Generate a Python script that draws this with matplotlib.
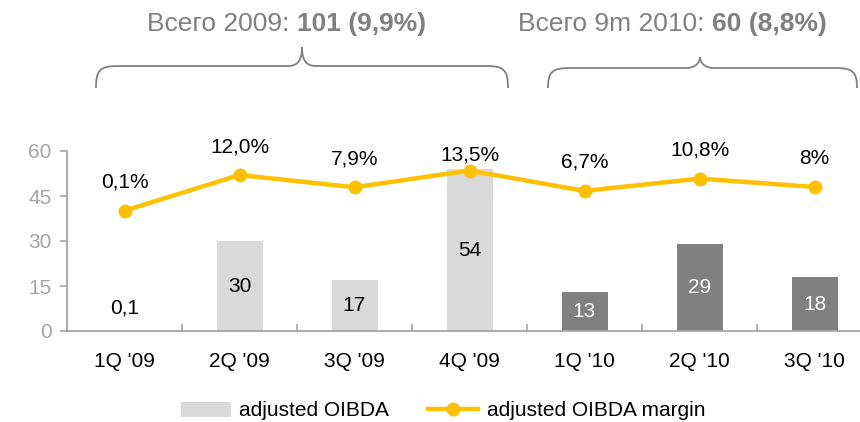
import matplotlib
matplotlib.use("Agg")
import matplotlib.pyplot as plt
from matplotlib.path import Path
from matplotlib.patches import PathPatch, Patch
from matplotlib.lines import Line2D

plt.rcParams['font.family'] = ['Liberation Sans', 'DejaVu Sans']

categories = ["1Q '09", "2Q '09", "3Q '09", "4Q '09", "1Q '10", "2Q '10", "3Q '10"]
oibda = [0.1, 30, 17, 54, 13, 29, 18]
oibda_labels = ["0,1", "30", "17", "54", "13", "29", "18"]
margin = [0.1, 12.0, 7.9, 13.5, 6.7, 10.8, 8.0]
margin_labels = ["0,1%", "12,0%", "7,9%", "13,5%", "6,7%", "10,8%", "8%"]
year_2010 = [False, False, False, False, True, True, True]
yticks = [0, 15, 30, 45, 60]

light = "#D9D9D9"
dark = "#808080"
yellow = "#FFC000"
axis_gray = "#A6A6A6"
FS = 15

W, H = 860, 422
fig = plt.figure(figsize=(W / 100, H / 100), dpi=100)

ax_left = 67 / W
ax_bottom = (H - 331) / H
ax_w = 805 / W
ax_h = 180 / H
ax = fig.add_axes([ax_left, ax_bottom, ax_w, ax_h])
ax2 = ax.twinx()

x = list(range(len(categories)))
colors = [dark if y else light for y in year_2010]
ax.bar(x, oibda, width=0.4, color=colors, zorder=2)
ax.set_xlim(-0.5, len(categories) - 0.5)
ax.set_ylim(0, 60)
ax.set_yticks(yticks)
ax.set_xticks(x)
ax.set_xticklabels(categories, fontsize=FS, color="black")
ax.tick_params(axis='x', length=0, pad=15)
ax.set_xticks([i + 0.5 for i in x[:-1]], minor=True)
ax.tick_params(axis='x', which='minor', direction='in', length=5, color=axis_gray, width=1.2)
ax.tick_params(axis='y', labelsize=FS, labelcolor=axis_gray, color=axis_gray, length=5, width=1.2, pad=6)
for s in ['top', 'right']:
    ax.spines[s].set_visible(False)
for s in ['left', 'bottom']:
    ax.spines[s].set_color(axis_gray)
    ax.spines[s].set_linewidth(1.3)

for i, (v, lab, is10) in enumerate(zip(oibda, oibda_labels, year_2010)):
    ypos = v / 2 if v > 5 else 7.5
    ax.text(i, ypos, lab, ha='center', va='center', fontsize=FS,
            color='white' if is10 else 'black', zorder=3)

# margin on secondary axis (offset scale)
ax2.set_ylim(-40, 20)
ax2.axis('off')
ax2.plot(x, margin, color=yellow, lw=3.2, marker='o', markersize=9, zorder=4)
for i, (m, lab) in enumerate(zip(margin, margin_labels)):
    off = 11 if i == 3 else 20.5
    ax2.annotate(lab, (i, m), xytext=(0, off), textcoords='offset points',
                 ha='center', va='center', fontsize=FS, color='black')

# overlay in pixel coordinates for braces and totals
ov = fig.add_axes([0, 0, 1, 1])
ov.set_xlim(0, W)
ov.set_ylim(H, 0)
ov.axis('off')

def brace(x0, x1, xm, ytop, yh, ybot):
    r = 22
    verts = [(x0, ybot),
             (x0, yh + 4), (x0 + 4, yh), (x0 + r, yh),
             (xm - 14, yh),
             (xm - 4, yh), (xm, yh - 6), (xm, ytop),
             (xm, yh - 6), (xm + 4, yh), (xm + 14, yh),
             (x1 - r, yh),
             (x1 - 4, yh), (x1, yh + 4), (x1, ybot)]
    codes = [Path.MOVETO,
             Path.CURVE4, Path.CURVE4, Path.CURVE4,
             Path.LINETO,
             Path.CURVE4, Path.CURVE4, Path.CURVE4,
             Path.CURVE4, Path.CURVE4, Path.CURVE4,
             Path.LINETO,
             Path.CURVE4, Path.CURVE4, Path.CURVE4]
    ov.add_patch(PathPatch(Path(verts, codes), fill=False, edgecolor="#808080", lw=1.3))

brace(96, 508, 302, 47, 66, 88)
brace(548, 857, 700, 57, 68, 88)

tcol = "#808080"
ov.text(297, 24, "Всего 2009: ", ha='right', va='center', fontsize=19, color=tcol)
ov.text(297, 24, "101 (9,9%)", ha='left', va='center', fontsize=19, color=tcol, fontweight='bold')
ov.text(712, 24, "Всего 9m 2010: ", ha='right', va='center', fontsize=19, color=tcol)
ov.text(712, 24, "60 (8,8%)", ha='left', va='center', fontsize=19, color=tcol, fontweight='bold')

handles = [Patch(facecolor=light, edgecolor='none'),
           Line2D([0], [0], color=yellow, lw=3.2, marker='o', markersize=9)]
fig.legend(handles, ["adjusted OIBDA", "adjusted OIBDA margin"], loc='center',
           bbox_to_anchor=(443 / W, (H - 411) / H), ncol=2, frameon=False, fontsize=FS,
           handlelength=2.4, handletextpad=0.4, columnspacing=1.9)

fig.savefig("out.png", dpi=100)
